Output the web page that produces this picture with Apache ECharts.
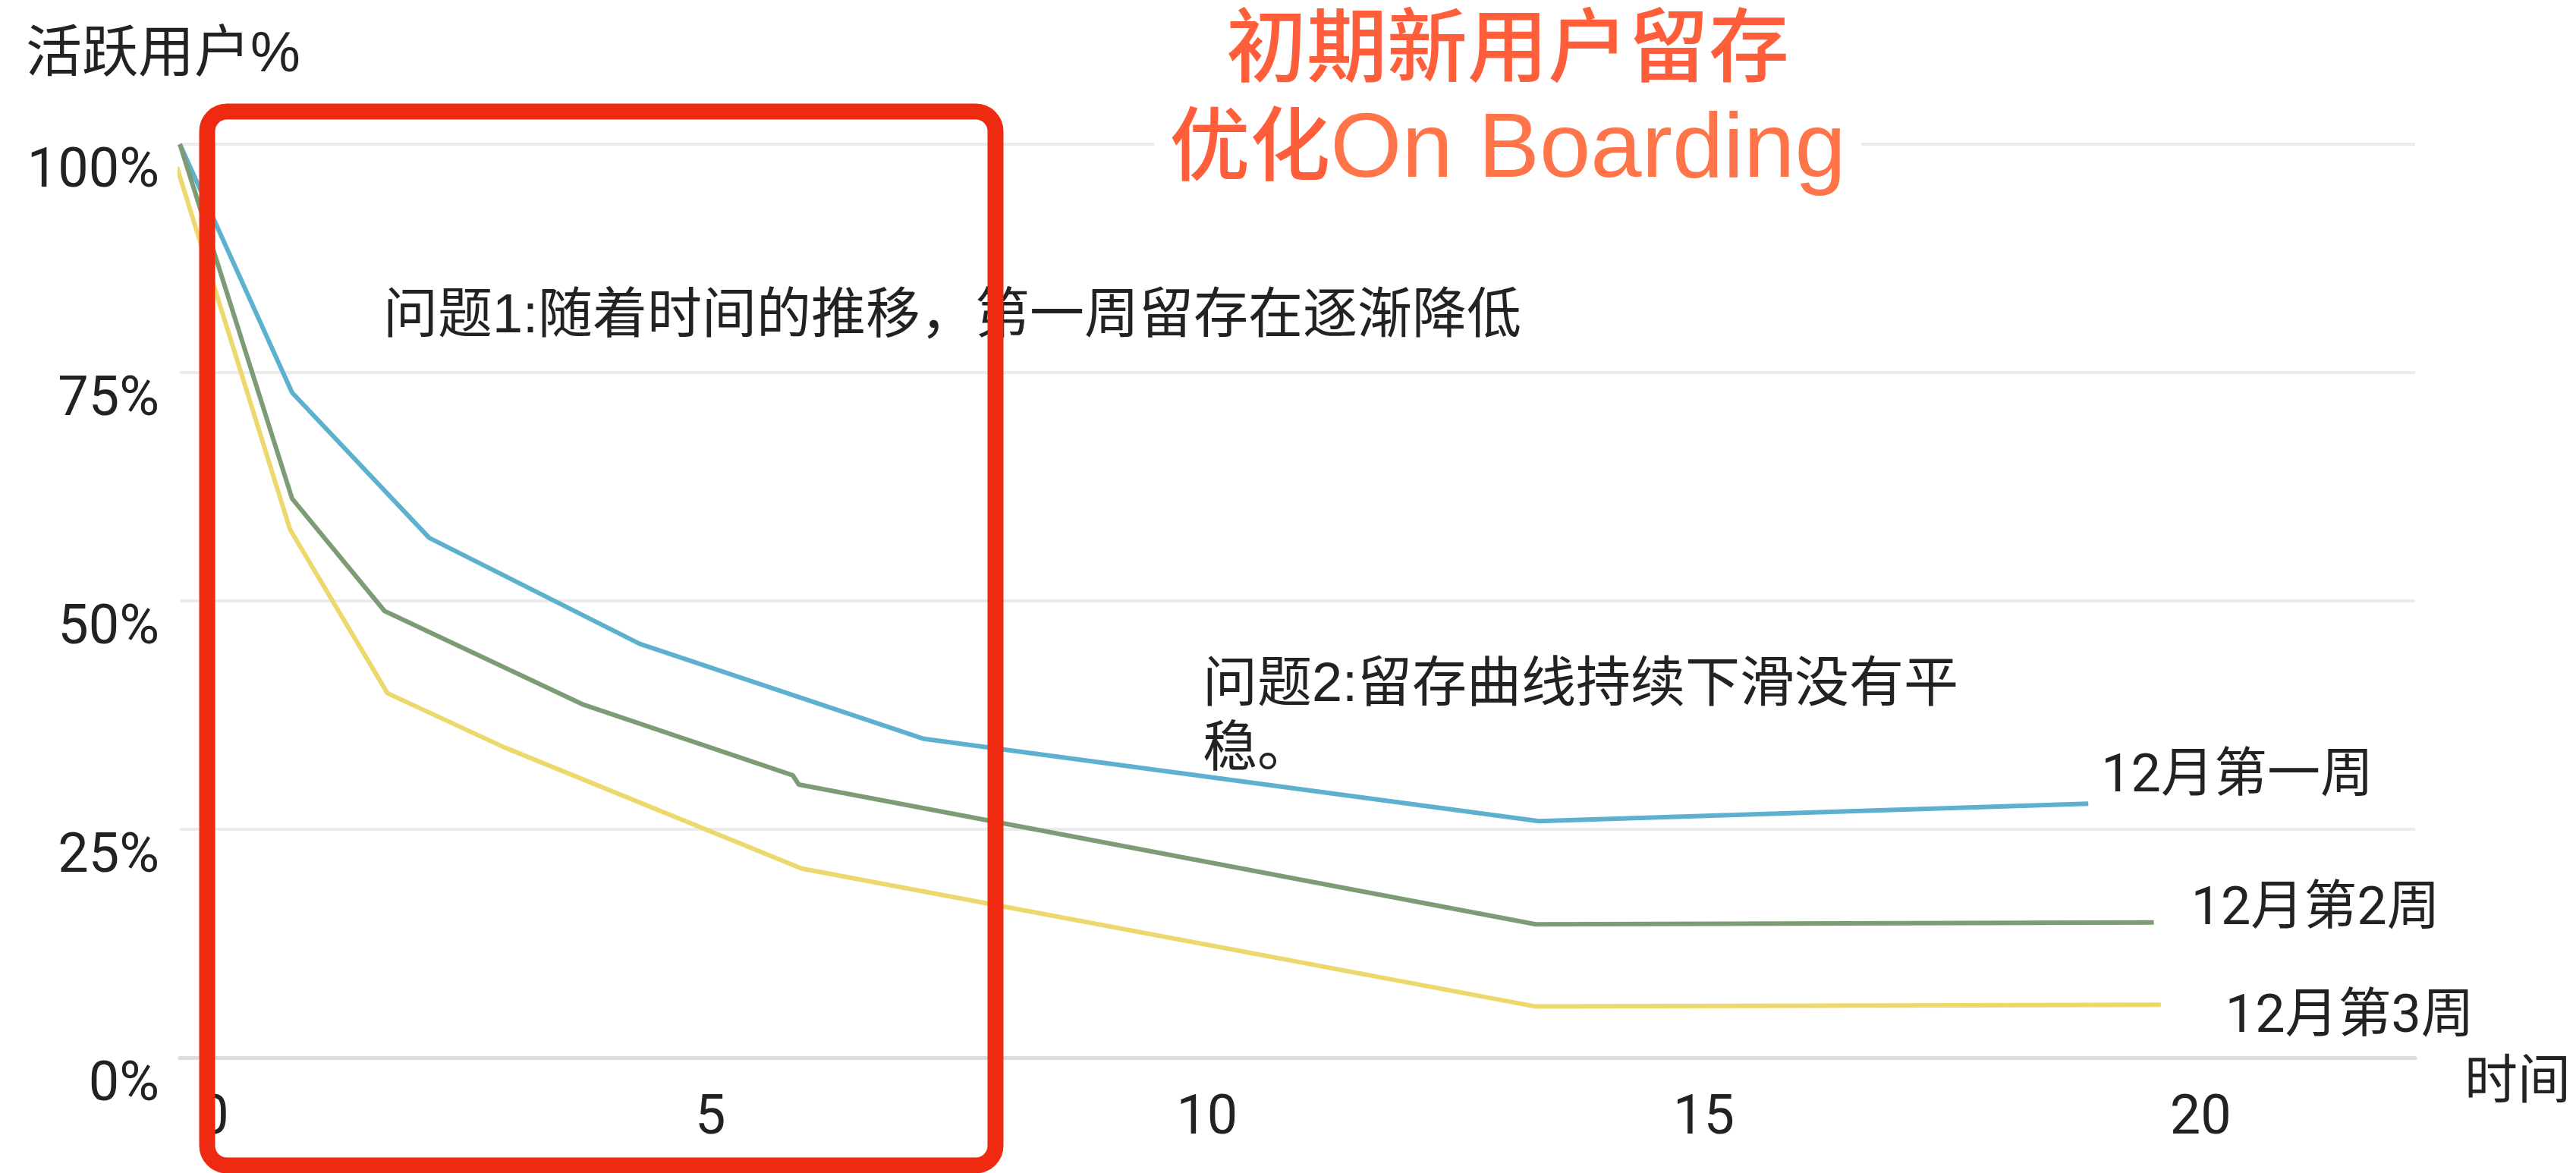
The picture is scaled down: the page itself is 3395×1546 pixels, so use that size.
<!DOCTYPE html>
<html>
<head>
<meta charset="utf-8">
<style>
html,body{margin:0;padding:0;background:#fff;}
#chart{width:3395px;height:1546px;}
</style>
<script src="https://cdn.jsdelivr.net/npm/echarts@6/dist/echarts.min.js"></script>
</head>
<body>
<div id="chart"></div>
<script>
// ---- data ----
var seriesNames = ['12月第一周', '12月第2周', '12月第3周'];
var week1Days = [-0.34, 0.79, 2.17, 4.29, 7.15, 13.34, 18.87];
var week1Active = [100, 72.8, 56.9, 45.3, 34.9, 25.9, 27.8];
var week2Days = [-0.34, 0.79, 1.72, 3.71, 5.83, 5.89, 13.31, 19.53];
var week2Active = [100, 61.2, 48.9, 38.7, 30.9, 29.9, 14.6, 14.8];
var week3Days = [-0.37, 0.77, 1.75, 2.92, 5.92, 13.31, 19.6];
var week3Active = [97.5, 57.8, 39.9, 34.0, 20.7, 5.6, 5.8];
var xTickValues = [0, 5, 10, 15, 20];
var yTickValues = [0, 25, 50, 75, 100];
var yAxisTitle = '活跃用户%';
var xAxisTitle = '时间';
var titleLine1 = '初期新用户留存';
var titleLine2a = '优化';
var titleLine2b = 'On Boarding';
var note1 = '问题1:随着时间的推移，第一周留存在逐渐降低';
var note2 = '问题2:留存曲线持续下滑没有平\n稳。';

function pairs(xs, ys) {
  return xs.map(function (x, i) { return [x, ys[i]]; });
}

var FONT = '"Liberation Sans", "Noto Sans CJK SC", sans-serif';
var NUMFONT = 'Roboto, "Noto Sans CJK SC", sans-serif';
var colors = ['#5DB1CF', '#7D9C76', '#ECD86C'];
var labelOffsets = [[12, -34], [44, -15], [80, 18]];
var dataSets = [pairs(week1Days, week1Active), pairs(week2Days, week2Active), pairs(week3Days, week3Active)];

var chart = echarts.init(document.getElementById('chart'));
var option = {
  animation: false,
  backgroundColor: '#ffffff',
  textStyle: { fontFamily: FONT },
  title: {
    text: '{a|' + titleLine1 + '}\n{a|' + titleLine2a + '}{b|' + titleLine2b + '}',
    left: 1967,
    top: 5,
    textAlign: 'center',
    padding: [0, 20, 0, 20],
    backgroundColor: '#ffffff',
    textStyle: {
      fontWeight: 'normal',
      rich: {
        a: { fontSize: 106, color: '#FF5E3A', lineHeight: 130, fontWeight: 500, fontFamily: FONT },
        b: { fontSize: 121, color: '#FF7448', lineHeight: 130, fontWeight: 'normal', fontFamily: FONT }
      }
    },
    z: 20
  },
  grid: { left: 237, right: 212, top: 190, bottom: 152, containLabel: false },
  xAxis: {
    type: 'value',
    min: -0.34,
    max: 22.16,
    name: xAxisTitle,
    nameLocation: 'end',
    nameGap: 65,
    nameMoveOverlap: false,
    nameTextStyle: { fontSize: 70, color: '#222', align: 'left', verticalAlign: 'top', fontFamily: FONT },
    axisLine: { show: true, lineStyle: { color: '#dcdcdc', width: 5 } },
    axisTick: { show: false, customValues: xTickValues },
    axisLabel: { customValues: xTickValues, fontSize: 72, color: '#222', margin: 46, fontFamily: NUMFONT },
    splitLine: { show: false }
  },
  yAxis: {
    type: 'value',
    min: 0,
    max: 100,
    interval: 25,
    axisLine: { show: true, lineStyle: { color: '#e0e0e0', width: 4 } },
    axisTick: { show: false },
    axisLabel: { formatter: '{value}%', fontSize: 72, lineHeight: 76, color: '#222', margin: 27, fontFamily: NUMFONT, verticalAlign: 'top' },
    splitLine: { show: true, lineStyle: { color: '#ebebeb', width: 4 } }
  },
  series: seriesNames.map(function (name, i) {
    return {
      name: name,
      type: 'line',
      data: dataSets[i],
      showSymbol: false,
      symbol: 'none',
      smooth: false,
      z: 3,
      lineStyle: { color: colors[i], width: 6 },
      itemStyle: { color: colors[i] },
      endLabel: {
        show: true,
        formatter: '{a}',
        fontSize: 70,
        color: '#222',
        fontFamily: NUMFONT,
        distance: 5,
        offset: labelOffsets[i]
      }
    };
  }),
  graphic: [
    {
      type: 'text',
      left: 34,
      top: 37,
      z: 10,
      style: { text: yAxisTitle, fontSize: 74, fill: '#222', fontFamily: FONT }
    },
    {
      type: 'text',
      left: 505,
      top: 382,
      z: 10,
      style: { text: note1, fontSize: 72, fill: '#222', fontFamily: FONT }
    },
    {
      type: 'text',
      left: 1585,
      top: 862,
      z: 50,
      style: { text: note2, fontSize: 72, lineHeight: 85, fill: '#222', fontFamily: FONT }
    },
    {
      type: 'rect',
      z: 100,
      shape: { x: 273, y: 147, width: 1039, height: 1389, r: 26 },
      style: { fill: 'none', stroke: '#EE2A10', lineWidth: 21 }
    }
  ]
};
chart.setOption(option);
</script>
</body>
</html>
